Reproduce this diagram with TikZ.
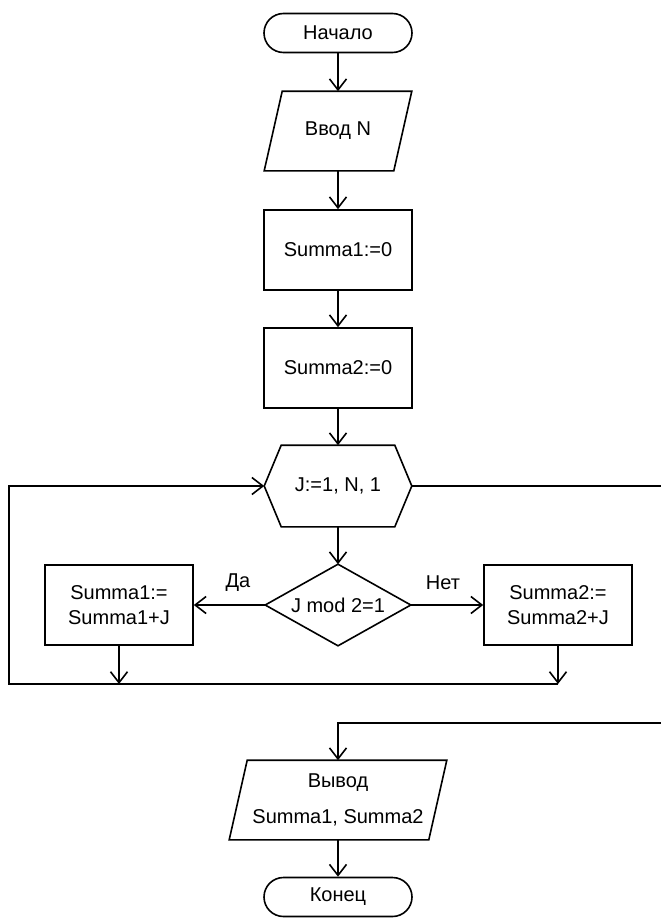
\documentclass[tikz,border=0pt]{standalone}
\usepackage{fontspec}
\setmainfont{Liberation Sans}
\usetikzlibrary{arrows.meta,calc}
\begin{document}
\begin{tikzpicture}[x=1pt,y=-1pt,
  line width=1.6pt,
  font=\fontsize{20}{25}\selectfont,
  flow/.style={-{Straight Barb[length=11pt,width=17pt,line width=1.6pt]}},
  block/.style={draw, rectangle, minimum width=148pt, minimum height=80pt, inner sep=0pt, align=center},
  term/.style={draw, rectangle, rounded corners=19.5pt, minimum width=148pt, minimum height=39pt, inner sep=0pt},
  frame/.style={rectangle, minimum width=#1, minimum height=78pt, inner sep=0pt, align=center},
  tag/.style={inner sep=0pt}
]
\useasboundingbox (0,0) rectangle (661,918);

% main column
\node[term] (start) at (338,33) {Начало};
\node[frame=146pt] (inN) at (338,131) {Ввод N};
\node[block] (s1) at (338,250) {Summa1:=0};
\node[block] (s2) at (338,368) {Summa2:=0};
\node[frame=146pt, minimum height=80pt] (hex) at (338,486) {J:=1, N, 1};
\node[frame=144pt, minimum height=80pt] (cond) at (338,605) {J mod 2=1};
\node[block] (a1) at (119,605) {Summa1:=\\Summa1+J};
\node[block] (a2) at (558,605) {Summa2:=\\Summa2+J};
\node[frame=216pt] (out) at (338,800) {Вывод\\[11pt]Summa1, Summa2};
\node[term] (end) at (338,897) {Конец};

% outlines of the special blocks
\draw ([xshift=18pt]inN.north west) -- (inN.north east)
      -- ([xshift=-18pt]inN.south east) -- (inN.south west) -- cycle;
\draw (hex.west) -- ([xshift=17pt]hex.north west) -- ([xshift=-17pt]hex.north east)
      -- (hex.east) -- ([xshift=-17pt]hex.south east) -- ([xshift=17pt]hex.south west) -- cycle;
\draw (cond.west) -- (cond.north) -- (cond.east) -- (cond.south) -- cycle;
\draw ([xshift=18pt]out.north west) -- (out.north east)
      -- ([xshift=-18pt]out.south east) -- (out.south west) -- cycle;

% branch labels
\node[tag] (yes) at (238,583) {Да};
\node[tag] (no) at (443,583) {Нет};

% loop helpers
\coordinate (lb) at (9,684);
\coordinate (exitR) at (661,486);
\coordinate (retR) at (661,723);

% connectors
\draw[flow] (start.south) -- (inN.north);
\draw[flow] (inN.south) -- (s1.north);
\draw[flow] (s1.south) -- (s2.north);
\draw[flow] (s2.south) -- (hex.north);
\draw[flow] (hex.south) -- (cond.north);
\draw[flow] (cond.west) -- (a1.east);
\draw[flow] (cond.east) -- (a2.west);
\draw[flow] (a1.south) -- (a1.south |- lb);
\draw[flow] (a2.south) -- (a2.south |- lb);
\draw[flow] (a2.south |- lb) -- (lb) -- (lb |- hex.west) -- (hex.west);
\draw (hex.east) -- (exitR);
\draw[flow] (retR) -- (retR -| out.north) -- (out.north);
\draw[flow] (out.south) -- (end.north);
\end{tikzpicture}
\end{document}
